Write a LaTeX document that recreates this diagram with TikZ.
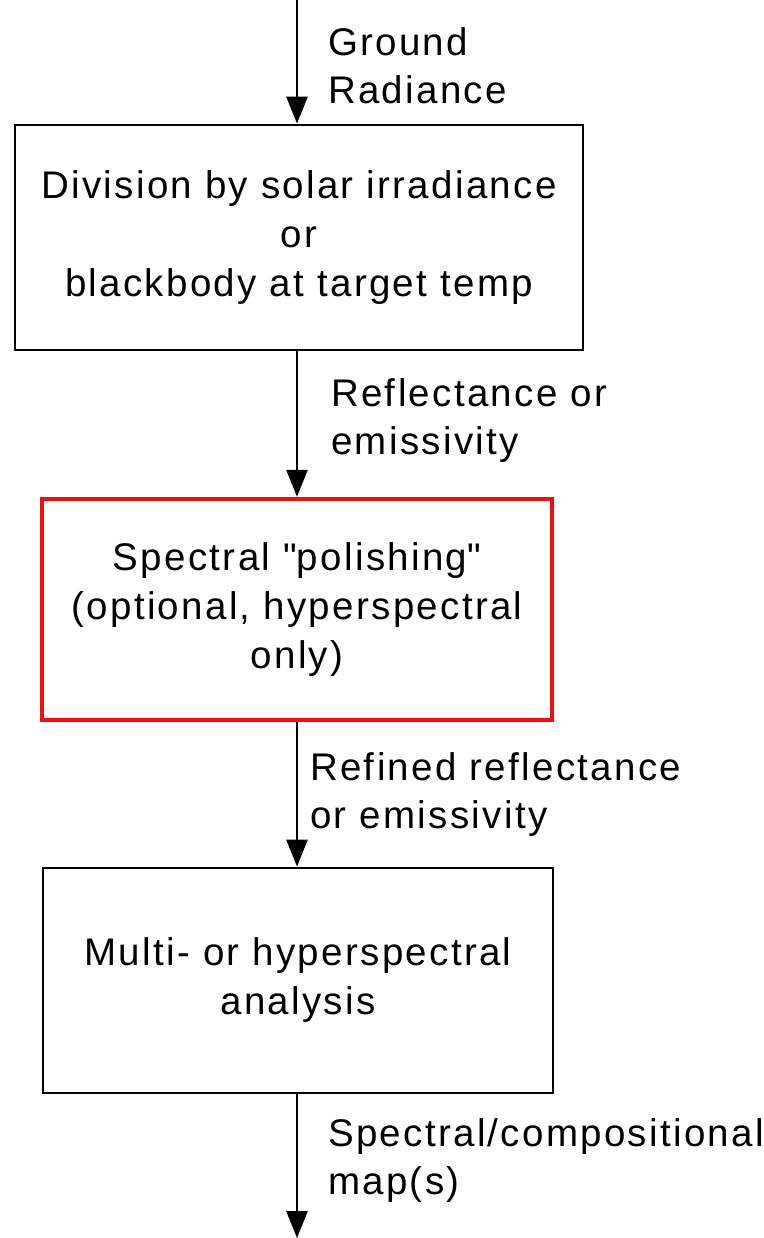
\documentclass[tikz,border=0pt]{standalone}
\usepackage{fontspec}
\setmainfont{Liberation Sans}[LetterSpace=6]
\usetikzlibrary{arrows.meta}
\begin{document}
\begin{tikzpicture}[x=1pt,y=-1pt,
  box/.style={draw=black,line width=2.8pt,rectangle,inner sep=0pt,align=center,
    font=\fontsize{38.5}{49}\selectfont},
  redbox/.style={box,draw={rgb,255:red,238;green,16;blue,16},line width=4.5pt},
  lbl/.style={anchor=west,inner sep=0pt,align=left,font=\fontsize{38.5}{48}\selectfont},
  flow/.style={line width=2.8pt,-{Triangle[length=27pt,width=21pt]}}]
\useasboundingbox (0,0) rectangle (763,1238);
\coordinate (top) at (297,0);
\coordinate (bot) at (297,1238);
\node[box,minimum width=568pt,minimum height=225pt] (b1) at (299,237.5)
  {Division by solar irradiance\\or\\blackbody at target temp};
\node[redbox,minimum width=510pt,minimum height=221pt] (b2) at (297,609.5)
  {Spectral \textquotedbl polishing\textquotedbl\\(optional, hyperspectral\\only)};
\node[box,minimum width=510pt,minimum height=225pt] (b3) at (298,980.5)
  {Multi- or hyperspectral\\analysis};
\draw[flow] (top) -- (top|-b1.north);
\draw[flow] (b1.south-|top) -- (b2.north-|top);
\draw[flow] (b2.south-|top) -- (b3.north-|top);
\draw[flow] (b3.south-|top) -- (bot);
\node[lbl] (l1) at (328,66) {Ground\\Radiance};
\node[lbl] (l2) at (331,421) {Reflectance or\\emissivity};
\node[lbl] (l3) at (310,795) {Refined reflectance\\or emissivity};
\node[lbl] (l4) at (328,1161) {Spectral/compositional\\map(s)};
\end{tikzpicture}
\end{document}
